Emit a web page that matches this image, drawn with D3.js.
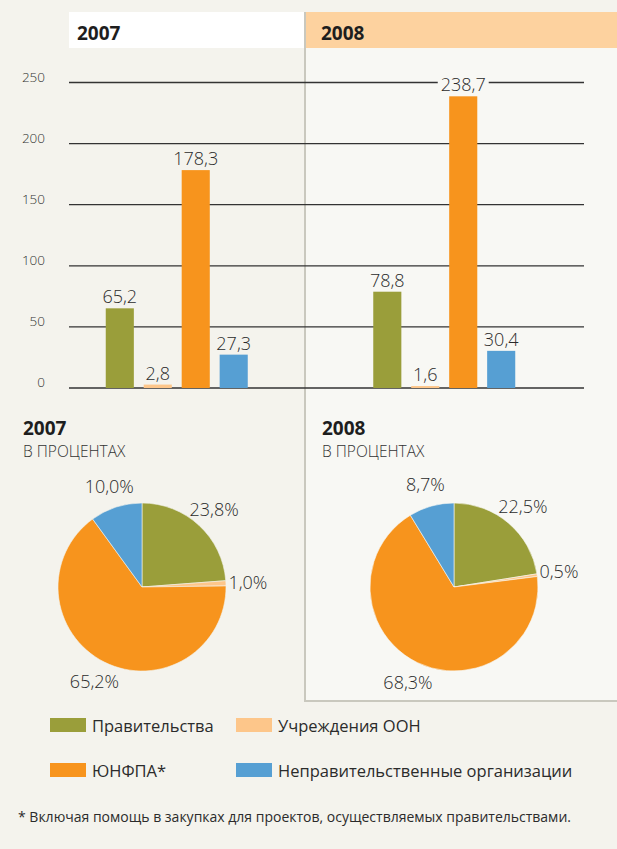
<!DOCTYPE html>
<html>
<head>
<meta charset="utf-8">
<script src="https://cdn.jsdelivr.net/npm/d3@7"></script>
<style>
  html, body { margin: 0; padding: 0; background: #f4f3ed; }
  svg { display: block; font-family: "Open Sans", "Noto Sans", sans-serif; }
</style>
</head>
<body>
<div id="chart"></div>
<script>
// data
const years = ["2007", "2008"];
const categories = ["Правительства", "Учреждения ООН", "ЮНФПА*", "Неправительственные организации"];
const colors = ["#9a9e3a", "#fdc68a", "#f7941d", "#569fd3"];
const values2007 = [65.2, 2.8, 178.3, 27.3];
const values2008 = [78.8, 1.6, 238.7, 30.4];
const share2007 = [23.8, 1.0, 65.2, 10.0];
const share2008 = [22.5, 0.5, 68.3, 8.7];
const yTicks = [0, 50, 100, 150, 200, 250];
const subtitle = "В ПРОЦЕНТАХ";
const footnote = "* Включая помощь в закупках для проектов, осуществляемых правительствами.";

const fmt = v => v.toFixed(1).replace(".", ",");

var width = 617, height = 849;
var bgLeft = "#f4f3ed", bgRight = "#f8f8f4", borderCol = "#c9c8be", textCol = "#2b2b2b";

var svg = d3.select("#chart")
    .append("svg")
    .attr("width", width)
    .attr("height", height);

svg.append("rect").attr("width", width).attr("height", height).attr("fill", bgLeft);

// right hand panel (2008)
svg.append("rect").attr("x", 305).attr("y", 12).attr("width", width - 305).attr("height", 689).attr("fill", bgRight);
svg.append("line").attr("x1", 305).attr("x2", 305).attr("y1", 12).attr("y2", 701)
    .attr("stroke", borderCol).attr("stroke-width", 2);
svg.append("line").attr("x1", 304).attr("x2", width).attr("y1", 701).attr("y2", 701)
    .attr("stroke", borderCol).attr("stroke-width", 2);

// headers
svg.append("rect").attr("x", 69).attr("y", 12).attr("width", 235).attr("height", 36).attr("fill", "#ffffff");
svg.append("rect").attr("x", 306).attr("y", 12).attr("width", width - 306).attr("height", 36).attr("fill", "#fdd29f");
svg.selectAll("headerText")
    .data(years).enter()
    .append("text")
    .attr("x", (d, i) => i ? 321 : 77)
    .attr("y", 40)
    .style("font-size", "19px")
    .style("font-weight", "bold")
    .style("fill", "#1e1e1e")
    .text(d => d);

// bar chart
var y = d3.scaleLinear().domain([0, 250]).range([388, 82.5]);
var x0 = d3.scaleBand().domain(years).range([43, 578]);
var x1 = d3.scaleBand().domain(categories).range([0, 142]).paddingInner(0.26);

svg.selectAll("gridLine")
    .data(yTicks).enter()
    .append("line")
    .attr("x1", 69).attr("x2", 584)
    .attr("y1", d => y(d)).attr("y2", d => y(d))
    .attr("stroke", "#333").attr("stroke-width", 1.3);

svg.selectAll("tickLabel")
    .data(yTicks).enter()
    .append("text")
    .attr("x", 45)
    .attr("y", d => y(d) - 1)
    .attr("text-anchor", "end")
    .style("font-size", "13.5px")
    .style("font-weight", 300)
    .style("fill", "#333")
    .text(d => d);

var barData = [];
years.forEach((yr, i) => {
    var vals = i ? values2008 : values2007;
    categories.forEach((c, j) => barData.push({year: yr, cat: c, value: vals[j], color: colors[j]}));
});

var groupX = d => x0(d.year) + x0.bandwidth() / 2 - 71 + x1(d.cat);

svg.selectAll("myRect")
    .data(barData).enter()
    .append("rect")
    .attr("x", groupX)
    .attr("y", d => y(d.value))
    .attr("width", x1.bandwidth())
    .attr("height", d => y(0) - y(d.value))
    .attr("fill", d => d.color);

var labels = svg.selectAll("barLabel")
    .data(barData).enter()
    .append("g");
labels.append("rect").attr("class", "lblBg");
labels.append("text")
    .attr("x", d => groupX(d) + x1.bandwidth() / 2)
    .attr("y", d => y(d.value) - 5)
    .attr("text-anchor", "middle")
    .style("font-size", "18px")
    .style("font-weight", 300)
    .style("fill", textCol)
    .text(d => fmt(d.value));
// knock out the gridline behind labels that cross it
labels.each(function(d) {
    var t = d3.select(this).select("text").node().getBBox();
    d3.select(this).select("rect")
        .attr("x", t.x - 3).attr("y", t.y + 3)
        .attr("width", t.width + 6).attr("height", t.height - 4)
        .attr("fill", d.year === "2008" ? bgRight : bgLeft);
});

// pies
var R = 84;
var pie = d3.pie().sort(null).value(d => d);
var arc = d3.arc().innerRadius(0).outerRadius(R);
var labelArc = d3.arc().innerRadius(106).outerRadius(106);

years.forEach((yr, i) => {
    var left = i ? 322 : 23;
    var cx = i ? 454 : 142, cy = 587;
    var shares = i ? share2008 : share2007;

    svg.append("text").attr("x", left).attr("y", 435)
        .style("font-size", "19px").style("font-weight", "bold").style("fill", "#1e1e1e")
        .text(yr);
    svg.append("text").attr("x", left).attr("y", 457)
        .style("font-size", "15.5px").style("font-weight", 300).style("fill", "#333")
        .text(subtitle);

    var g = svg.append("g").attr("transform", "translate(" + cx + "," + cy + ")");
    var arcs = pie(shares);
    g.selectAll("slice")
        .data(arcs).enter()
        .append("path")
        .attr("d", arc)
        .attr("fill", (d, j) => colors[j])
        .attr("stroke", i ? bgRight : bgLeft)
        .attr("stroke-width", 0.6);
    g.selectAll("sliceLabel")
        .data(arcs).enter()
        .append("text")
        .attr("transform", d => "translate(" + labelArc.centroid(d) + ")")
        .attr("dy", "0.35em")
        .attr("text-anchor", "middle")
        .style("font-size", "18px")
        .style("font-weight", 300)
        .style("fill", textCol)
        .text(d => fmt(d.value) + "%");
});

// legend
var legend = svg.selectAll("legendItem")
    .data(categories).enter()
    .append("g")
    .attr("transform", (d, i) => "translate(" + (i % 2 ? 236 : 50) + "," + (i < 2 ? 718 : 763) + ")");
legend.append("rect")
    .attr("width", 36).attr("height", 14)
    .attr("fill", (d, i) => colors[i]);
legend.append("text")
    .attr("x", 42).attr("y", 14)
    .style("font-size", "16.5px")
    .style("fill", textCol)
    .text(d => d);

svg.append("text")
    .attr("x", 18).attr("y", 822)
    .style("font-size", "14px")
    .style("fill", textCol)
    .text(footnote);
</script>
</body>
</html>
